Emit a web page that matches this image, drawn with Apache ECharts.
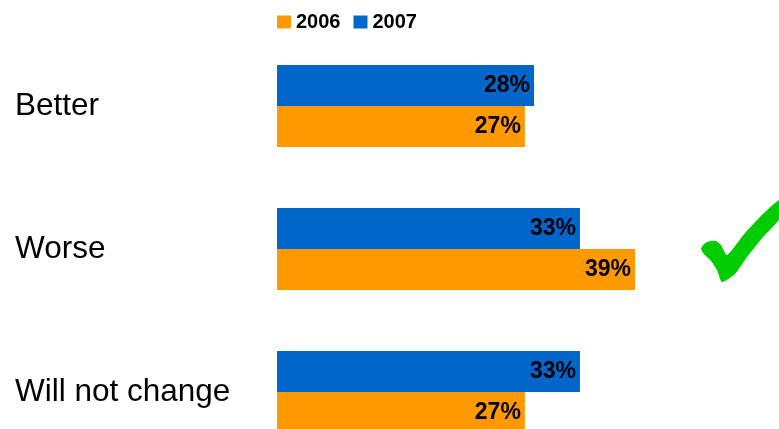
<!DOCTYPE html>
<html>
<head>
<meta charset="utf-8">
<script src="https://cdn.jsdelivr.net/npm/echarts@6/dist/echarts.min.js"></script>
<style>
  html, body { margin: 0; padding: 0; background: #ffffff; }
  #chart { width: 779px; height: 429px; }
</style>
</head>
<body>
<div id="chart"></div>
<script>
// Answer categories, top to bottom
const categories = ['Better', 'Worse', 'Will not change'];
// Share of answers per year, percent
const values2006 = [27, 39, 27];
const values2007 = [28, 33, 33];
const seriesNames = ['2006', '2007'];

const chart = echarts.init(document.getElementById('chart'));
const font = '"Liberation Sans", Arial, sans-serif';

const label = {
  show: true,
  position: 'insideRight',
  distance: 4,
  formatter: '{c}%',
  color: '#000000',
  fontFamily: font,
  fontWeight: 'bold',
  fontSize: 23
};

chart.setOption({
  animation: false,
  backgroundColor: '#ffffff',
  legend: {
    data: seriesNames,
    left: 277,
    top: 12,
    padding: 0,
    itemWidth: 14,
    itemHeight: 13,
    itemGap: 13,
    icon: 'rect',
    textStyle: { fontFamily: font, fontWeight: 'bold', fontSize: 20, color: '#000000' }
  },
  grid: {
    left: 277, top: 34.5, width: 459, height: 429,
    containLabel: false, outerBoundsMode: 'none'
  },
  xAxis: {
    type: 'value', min: 0, max: 50,
    show: false
  },
  yAxis: {
    type: 'category',
    data: categories,
    inverse: true,
    axisLine: { show: false },
    axisTick: { show: false },
    axisLabel: {
      align: 'left',
      margin: 262,
      color: '#000000',
      fontFamily: font,
      fontSize: 31.5
    }
  },
  series: [
    {
      name: '2007', type: 'bar', data: values2007,
      itemStyle: { color: '#0066CC' },
      barGap: '0%', barCategoryGap: '42.6%',
      label: label
    },
    {
      name: '2006', type: 'bar', data: values2006,
      itemStyle: { color: '#FF9900' },
      barGap: '0%', barCategoryGap: '42.6%',
      label: label
    }
  ],
  // green tick mark beside the "Worse" group
  graphic: [{
    type: 'polygon',
    shape: {
      points: [
        [701, 249], [704, 244], [710, 241], [716, 241], [721, 245], [727, 255],
        [745, 233], [765, 212], [780, 200], [780, 218],
        [763, 237], [747, 257], [735, 274], [722, 282],
        [717, 270], [711, 261], [704, 254]
      ],
      smooth: 0.2
    },
    style: { fill: '#00CC00' }
  }]
});
</script>
</body>
</html>
